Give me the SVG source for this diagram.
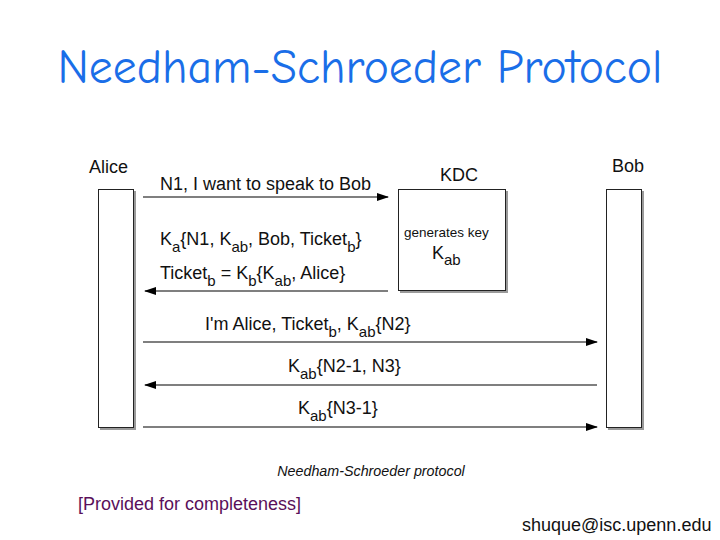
<svg xmlns="http://www.w3.org/2000/svg" width="720" height="540" viewBox="0 0 720 540">
<defs>
<marker id="ah" markerWidth="12" markerHeight="8" refX="11" refY="4" orient="auto" markerUnits="userSpaceOnUse">
<path d="M0,0 L12,4 L0,8 Z" fill="#000"/>
</marker>
</defs>
<style>
.t{font-family:"Liberation Sans",Arial,sans-serif;fill:#111;}
.m{font-size:18px;}
.s{font-size:15px;}
.box{fill:#fff;stroke:#222;stroke-width:1;}
.sh{fill:#9a9a9a;}
.ln{stroke:#000;stroke-width:1.2;fill:none;marker-end:url(#ah);}
</style>
<rect width="720" height="540" fill="#fff"/>
<text x="360" y="83" text-anchor="middle" textLength="605" lengthAdjust="spacingAndGlyphs" style="font-family:'Comic Sans MS','Comic Neue','DejaVu Sans',sans-serif;font-size:48px;fill:#1a6ee8;">Needham-Schroeder Protocol</text>

<g id="alice">
<rect class="sh" x="100" y="191" width="36" height="239"/>
<rect class="box" x="98.5" y="189.5" width="35" height="238"/>
<text class="t m" x="89" y="173">Alice</text>
</g>
<g id="kdc">
<rect class="sh" x="400" y="191" width="108" height="102"/>
<rect class="box" x="398.5" y="189.5" width="107" height="101"/>
<text class="t m" x="440" y="181">KDC</text>
<text class="t" x="404" y="237" style="font-size:13.5px;">generates key</text>
<text class="t m" x="432" y="259">K<tspan class="s" dy="6">ab</tspan></text>
</g>
<g id="bob">
<rect class="sh" x="608" y="191" width="36" height="239"/>
<rect class="box" x="606.5" y="189.5" width="35" height="238"/>
<text class="t m" x="612" y="172">Bob</text>
</g>

<g id="connectors">
<line class="ln" x1="143" y1="197" x2="388" y2="197"/>
<line class="ln" x1="388" y1="291" x2="145" y2="291"/>
<line class="ln" x1="143" y1="342" x2="597" y2="342"/>
<line class="ln" x1="597" y1="385" x2="145" y2="385"/>
<line class="ln" x1="143" y1="427" x2="597" y2="427"/>
<text class="t m" x="160" y="190">N1, I want to speak to Bob</text>
<text class="t m" x="160" y="245">K<tspan class="s" dy="7">a</tspan><tspan dy="-7">{N1, K</tspan><tspan class="s" dy="7">ab</tspan><tspan dy="-7">, Bob, Ticket</tspan><tspan class="s" dy="7">b</tspan><tspan dy="-7">}</tspan></text>
<text class="t m" x="160" y="279">Ticket<tspan class="s" dy="7">b</tspan><tspan dy="-7"> = K</tspan><tspan class="s" dy="7">b</tspan><tspan dy="-7">{K</tspan><tspan class="s" dy="7">ab</tspan><tspan dy="-7">, Alice}</tspan></text>
<text class="t m" x="205" y="330">I'm Alice, Ticket<tspan class="s" dy="7">b</tspan><tspan dy="-7">, K</tspan><tspan class="s" dy="7">ab</tspan><tspan dy="-7">{N2}</tspan></text>
<text class="t m" x="288" y="372">K<tspan class="s" dy="7">ab</tspan><tspan dy="-7">{N2-1, N3}</tspan></text>
<text class="t m" x="298" y="414">K<tspan class="s" dy="7">ab</tspan><tspan dy="-7">{N3-1}</tspan></text>
</g>

<text class="t" x="371" y="476" text-anchor="middle" style="font-size:14.3px;font-style:italic;">Needham-Schroeder protocol</text>
<text x="78" y="510" style="font-family:'Liberation Sans',Arial,sans-serif;font-size:18px;fill:#5a0f5a;">[Provided for completeness]</text>
<text class="t" x="522" y="531" style="font-size:18px;">shuque@isc.upenn.edu</text>
</svg>
